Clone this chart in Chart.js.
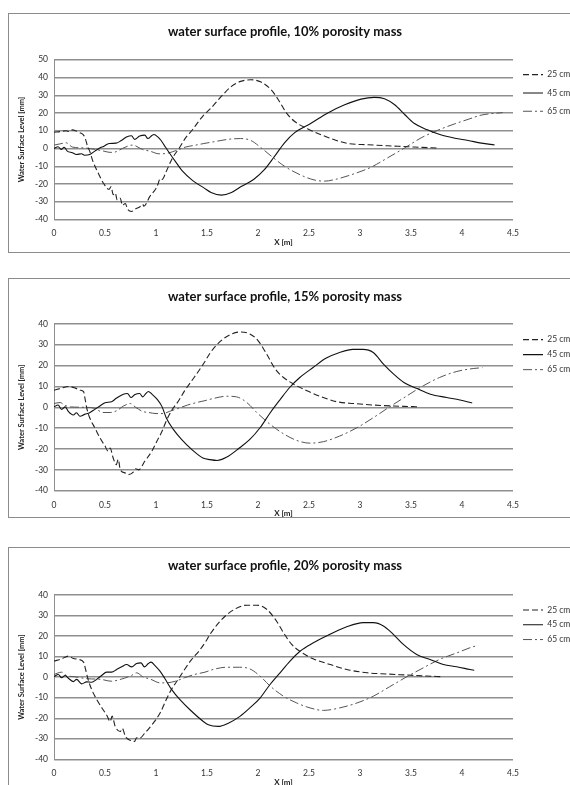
<!DOCTYPE html>
<html>
<head>
<meta charset="utf-8">
<script src="https://cdn.jsdelivr.net/npm/chart.js@4.4.1/dist/chart.umd.min.js"></script>
<style>
  html, body { margin: 0; padding: 0; background: #fff; }
  body { width: 570px; height: 785px; overflow: hidden; position: relative; }
  .frame { position: absolute; left: 8px; width: 600px; border: 1px solid #8c8c8c; box-sizing: border-box; }
  canvas { position: absolute; left: -10px; }
</style>
</head>
<body>
<div class="frame" style="top:13px;height:240px"></div>
<div class="frame" style="top:278px;height:240px"></div>
<div class="frame" style="top:547px;height:260px"></div>
<canvas id="c10" width="590" height="237" style="top:13px"></canvas>
<canvas id="c15" width="590" height="243" style="top:278px"></canvas>
<canvas id="c20" width="590" height="243" style="top:547px"></canvas>
<script>
// 10% porosity mass
const x10_25 = [0, 0.06, 0.12, 0.15, 0.18, 0.22, 0.25, 0.29, 0.31, 0.33, 0.35, 0.38, 0.44, 0.49, 0.54, 0.56, 0.58, 0.6, 0.62, 0.65, 0.67, 0.7, 0.72, 0.76, 0.8, 0.84, 0.87, 0.88, 0.94, 1.0, 1.02, 1.04, 1.06, 1.1, 1.16, 1.23, 1.29, 1.36, 1.42, 1.47, 1.54, 1.64, 1.74, 1.83, 1.93, 2.03, 2.13, 2.21, 2.28, 2.36, 2.49, 2.62, 2.75, 2.88, 3.08, 3.27, 3.47, 3.6, 3.75];
const y10_25 = [9.2, 9.5, 10, 9.5, 10.5, 9.8, 9, 7.5, 5, 1, -1.5, -7, -14.6, -20, -23, -21.5, -26, -25, -29, -28, -32, -31, -34, -35.5, -34, -33, -31.5, -32.5, -27, -22.5, -20, -17, -17.5, -13, -5.5, 0.4, 6, 10.7, 15.4, 19, 22.8, 29.3, 35, 37.8, 38.7, 37.4, 33, 26.5, 19.9, 15.2, 11, 7.7, 4.9, 2.8, 2.1, 1.5, 1, 0.6, 0.3];
const x10_45 = [0, 0.04, 0.07, 0.1, 0.13, 0.18, 0.22, 0.27, 0.3, 0.35, 0.4, 0.44, 0.49, 0.54, 0.61, 0.66, 0.71, 0.76, 0.79, 0.84, 0.89, 0.92, 0.96, 0.98, 1.02, 1.05, 1.08, 1.13, 1.2, 1.26, 1.36, 1.47, 1.54, 1.64, 1.74, 1.83, 1.96, 2.06, 2.16, 2.26, 2.36, 2.52, 2.68, 2.85, 3.01, 3.14, 3.24, 3.34, 3.44, 3.53, 3.66, 3.79, 3.93, 4.06, 4.19, 4.32];
const y10_45 = [0, 1, -0.5, 0.7, -1.5, -2.4, -3.4, -3, -3.8, -3.4, -1.5, 0, 1.3, 2.8, 3, 4.5, 6.4, 7.2, 5.1, 7, 7.5, 5.6, 7.3, 7.9, 6.4, 4.5, 1.9, -2.4, -8.1, -12.8, -18.1, -22.2, -24.8, -26.3, -24.8, -21.6, -17.3, -12.1, -4.6, 3.2, 8.9, 14.2, 19.9, 24.6, 27.8, 28.8, 28, 24.6, 19, 14.2, 10.5, 7.7, 5.8, 4.5, 3, 2];
const x10_65 = [0, 0.06, 0.12, 0.18, 0.3, 0.4, 0.49, 0.55, 0.61, 0.67, 0.77, 0.87, 0.94, 1.03, 1.1, 1.2, 1.29, 1.39, 1.47, 1.57, 1.7, 1.83, 1.93, 2.03, 2.13, 2.26, 2.42, 2.55, 2.65, 2.78, 2.94, 3.11, 3.27, 3.44, 3.6, 3.76, 3.93, 4.06, 4.19, 4.4];
const y10_65 = [1.9, 2.6, 3.2, 0.8, 0.3, -0.5, -1.5, -2.2, -1.8, 0, 1.9, -0.6, -1.5, -3, -2.8, -1.1, 0.8, 1.9, 2.8, 3.8, 5.1, 5.6, 4.5, 0.4, -4.3, -10, -15, -17.7, -18.4, -17.1, -14.3, -10.5, -5.3, 0.4, 6, 10.2, 13.9, 16.4, 18.8, 20.2];

// 15% porosity mass
const x15_25 = [0, 0.075, 0.14, 0.21, 0.255, 0.29, 0.305, 0.32, 0.35, 0.4, 0.45, 0.5, 0.53, 0.55, 0.58, 0.61, 0.63, 0.65, 0.7, 0.73, 0.78, 0.8, 0.83, 0.89, 0.96, 1.01, 1.06, 1.1, 1.15, 1.22, 1.28, 1.35, 1.42, 1.48, 1.53, 1.63, 1.73, 1.82, 1.92, 2.0, 2.085, 2.17, 2.25, 2.35, 2.48, 2.64, 2.77, 2.94, 3.13, 3.33, 3.52, 3.56];
const y15_25 = [8.2, 9.2, 10, 9.2, 8.2, 7.5, 3.9, -0.2, -5, -9.8, -14.6, -18.6, -21, -19.5, -24.3, -27.5, -25, -29.9, -31.5, -32.3, -31, -29.5, -30, -25.9, -21, -16.2, -11.4, -6.6, -1.8, 3, 7.9, 12.7, 17.5, 22, 26, 31.6, 34.9, 36.1, 35.2, 32, 25.5, 18.3, 14.3, 11.1, 7.9, 4.7, 2.7, 1.8, 1.1, 0.6, 0.3, 0.2];
const x15_45 = [0, 0.04, 0.075, 0.11, 0.14, 0.19, 0.22, 0.255, 0.3, 0.35, 0.4, 0.45, 0.5, 0.565, 0.61, 0.68, 0.72, 0.755, 0.79, 0.84, 0.87, 0.9, 0.925, 0.96, 1.01, 1.06, 1.1, 1.17, 1.25, 1.35, 1.46, 1.53, 1.6, 1.69, 1.82, 1.92, 2.02, 2.12, 2.22, 2.31, 2.41, 2.54, 2.67, 2.8, 2.93, 3.03, 3.13, 3.23, 3.33, 3.43, 3.56, 3.69, 3.85, 3.98, 4.1];
const y15_45 = [0.2, 1.1, -1, 0.2, -2, -3.7, -2.6, -4.3, -3.4, -2.6, -1, 0.6, 2.2, 2.7, 4.3, 6.3, 6.6, 4.7, 6, 6.6, 5, 6.6, 7.6, 6.3, 3.9, 0.2, -5, -10.6, -15.4, -20.2, -24.3, -25.1, -25.5, -24, -19.4, -15.4, -9.8, -2.6, 3.9, 9.5, 14.3, 19.1, 23.6, 26.3, 27.8, 27.8, 26.3, 20.7, 15.9, 11.9, 9, 6.3, 4.7, 3.5, 2.1];
const x15_65 = [0, 0.06, 0.1, 0.16, 0.3, 0.4, 0.48, 0.55, 0.62, 0.68, 0.75, 0.8, 0.87, 0.93, 1.0, 1.07, 1.13, 1.22, 1.31, 1.4, 1.48, 1.56, 1.69, 1.79, 1.89, 1.99, 2.12, 2.25, 2.38, 2.51, 2.64, 2.8, 2.97, 3.13, 3.29, 3.46, 3.62, 3.78, 3.95, 4.11, 4.2];
const y15_65 = [1.8, 2.3, 1.1, 0.2, 0, -0.5, -2.5, -2.5, -1.5, 0.6, 1.8, 0, -2, -2.5, -3, -3, -2, -0.5, 1.1, 2.3, 3.2, 4.2, 5.3, 5, 2.3, -2.6, -8.2, -12.7, -15.9, -17.2, -16.5, -13.8, -9.8, -5, 0.2, 5.5, 10.3, 14.3, 17.2, 18.6, 19];

// 20% porosity mass
const x20_25 = [0, 0.075, 0.14, 0.19, 0.24, 0.29, 0.31, 0.33, 0.37, 0.42, 0.47, 0.52, 0.55, 0.57, 0.6, 0.65, 0.67, 0.7, 0.75, 0.79, 0.81, 0.84, 0.89, 0.96, 1.04, 1.1, 1.15, 1.22, 1.28, 1.35, 1.42, 1.48, 1.53, 1.63, 1.76, 1.89, 1.99, 2.085, 2.17, 2.25, 2.33, 2.41, 2.54, 2.71, 2.87, 3.07, 3.26, 3.46, 3.65, 3.8];
const y20_25 = [7.8, 8.9, 10.2, 9.1, 8.6, 7.3, 3.7, -0.4, -6.1, -11, -15, -18.8, -21.6, -19, -24, -26.5, -25, -28.9, -30.8, -31.3, -29.5, -29.7, -27.3, -23.2, -17.5, -11, -6.1, -0.9, 3.7, 8.6, 12.6, 16.7, 20.8, 27.3, 32.7, 35, 35, 33, 28.1, 21.6, 15.9, 12.6, 8.9, 6.1, 3.7, 2.1, 1.5, 1, 0.5, 0.2];
const x20_45 = [0, 0.042, 0.075, 0.108, 0.147, 0.19, 0.222, 0.271, 0.32, 0.369, 0.418, 0.467, 0.516, 0.565, 0.614, 0.663, 0.712, 0.761, 0.81, 0.853, 0.886, 0.925, 0.951, 0.99, 1.039, 1.088, 1.154, 1.235, 1.333, 1.464, 1.513, 1.61, 1.709, 1.823, 1.92, 2.02, 2.118, 2.216, 2.314, 2.412, 2.543, 2.706, 2.87, 3.033, 3.131, 3.229, 3.327, 3.425, 3.556, 3.686, 3.817, 3.948, 4.078, 4.12];
const y20_45 = [0.2, 1.3, -0.3, 0.8, -0.8, -2.2, -1.1, -3.3, -2.3, -2.5, -1.1, 0.8, 2.4, 2.4, 3.7, 5, 6.1, 5, 6.6, 6.9, 5, 6.6, 7.3, 5.6, 2.9, -0.8, -6.1, -11, -15.9, -21.6, -23.2, -24, -22.4, -19.1, -15, -10.2, -3.6, 2.1, 7.8, 12.6, 16.7, 20.8, 24.5, 26.5, 26.5, 24.9, 20.8, 15.9, 11, 8.6, 6.1, 5, 3.7, 3.3];
const x20_65 = [0, 0.075, 0.12, 0.2, 0.33, 0.46, 0.56, 0.66, 0.76, 0.81, 0.87, 0.95, 1.04, 1.1, 1.19, 1.28, 1.38, 1.48, 1.56, 1.69, 1.82, 1.92, 2.02, 2.12, 2.25, 2.38, 2.51, 2.64, 2.8, 2.97, 3.13, 3.29, 3.46, 3.62, 3.78, 3.95, 4.11, 4.15];
const y20_65 = [1.3, 2.4, 0.8, 0.2, -0.8, -1.1, -2, -1, 0.8, 2.1, 0.2, -1.1, -2.8, -2.8, -2, -0.3, 1.3, 2.4, 3.7, 4.8, 4.8, 4, 0.5, -4.4, -9.3, -12.6, -15, -16.2, -15, -12.6, -9.3, -4.7, 0.2, 4.5, 8.6, 11.8, 14.8, 15.2];

const seriesLabels = ['25 cm', '45 cm', '65 cm'];
const xTicks = [0, 0.5, 1, 1.5, 2, 2.5, 3, 3.5, 4, 4.5];

Chart.defaults.font.family = 'Lato, "Liberation Sans", sans-serif';
Chart.defaults.color = '#333';

const lineStyles = [
  { borderColor: '#222', borderWidth: 1.1, borderDash: [6, 3] },
  { borderColor: '#111', borderWidth: 1.1, borderDash: [] },
  { borderColor: '#555', borderWidth: 1, borderDash: [9, 3, 2, 3] }
];

function pts(xs, ys) {
  return xs.map((x, i) => ({ x: x, y: ys[i] }));
}

// pins the legend column to the reference position
const legendFix = {
  id: 'legendFix',
  beforeLayout(chart, args, opts) {
    const lg = chart.legend;
    if (lg && !lg._pinned) {
      const fit = lg.fit;
      lg.fit = function () { fit.call(this); this.width = opts.width; };
      lg._pinned = true;
    }
  },
  afterLayout(chart, args, opts) {
    const lg = chart.legend;
    const top = chart.chartArea.top;
    lg.left = chart.chartArea.right + opts.dx;
    lg.right = lg.left + lg.width;
    lg.top = top + opts.dy;
    lg.bottom = lg.top + lg.height;
  }
};

function makeChart(id, title, series, p) {
  const ctx = document.getElementById(id).getContext('2d');
  new Chart(ctx, {
    type: 'line',
    data: {
      datasets: series.map((s, i) => Object.assign({
        label: seriesLabels[i],
        data: pts(s[0], s[1]),
        pointRadius: 0,
        fill: false,
        cubicInterpolationMode: 'monotone'
      }, lineStyles[i]))
    },
    options: {
      responsive: false,
      animation: false,
      layout: { padding: 0 },
      plugins: {
        title: {
          display: true,
          text: title,
          color: '#111',
          font: { size: 13, weight: 'bold' },
          padding: { top: 10.9, bottom: p.titleBottom }
        },
        legend: {
          position: 'right',
          align: 'start',
          fullSize: false,
          labels: {
            usePointStyle: true,
            pointStyle: 'line',
            pointStyleWidth: 20,
            padding: p.legendPad,
            color: '#333',
            font: { size: 8.5 },
            generateLabels(chart) {
              const items = Chart.defaults.plugins.legend.labels.generateLabels(chart);
              items.forEach((it, i) => {
                const ds = chart.data.datasets[i];
                it.lineDash = ds.borderDash;
                it.strokeStyle = ds.borderColor;
                it.lineWidth = ds.borderWidth;
              });
              return items;
            }
          }
        },
        legendFix: { width: 67, dx: 10 - p.legendPad, dy: p.legendDy },
        tooltip: { enabled: false }
      },
      scales: {
        x: {
          type: 'linear',
          min: 0,
          max: 4.5,
          afterBuildTicks: s => { s.ticks = xTicks.map(v => ({ value: v })); },
          afterFit: s => { s.height = p.xHeight; },
          grid: { display: false, drawTicks: false },
          border: { display: false },
          ticks: { padding: 9, font: { size: 8.5 }, color: '#333', callback: v => String(v) },
          title: { display: true, text: 'X [m]', color: '#222', font: { size: 8, weight: 'bold' }, padding: { top: 0, bottom: 3.2 } }
        },
        y: {
          min: -40,
          max: p.yMax,
          afterFit: s => { s.width = 64; },
          ticks: { stepSize: 10, padding: 6, font: { size: 8.5 }, color: '#333', callback: v => String(v) },
          grid: { color: '#8f8f8f', lineWidth: 1.4, drawTicks: false },
          border: { color: '#8f8f8f', width: 1 },
          title: { display: true, text: 'Water Surface Level [mm]', color: '#222', font: { size: 7.5, weight: 'bold' }, padding: { top: 27, bottom: 0 } }
        }
      }
    },
    plugins: [legendFix]
  });
}

makeChart('c10', 'water surface profile, 10% porosity mass',
  [[x10_25, y10_25], [x10_45, y10_45], [x10_65, y10_65]],
  { yMax: 50, titleBottom: 20.2, xHeight: 30.5, legendPad: 9.8, legendDy: 0.9 });
makeChart('c15', 'water surface profile, 15% porosity mass',
  [[x15_25, y15_25], [x15_45, y15_45], [x15_65, y15_65]],
  { yMax: 40, titleBottom: 19.4, xHeight: 30.3, legendPad: 6.5, legendDy: 5 });
makeChart('c20', 'water surface profile, 20% porosity mass',
  [[x20_25, y20_25], [x20_45, y20_45], [x20_65, y20_65]],
  { yMax: 40, titleBottom: 21.4, xHeight: 30.7, legendPad: 6.3, legendDy: 4.5 });
</script>
</body>
</html>
